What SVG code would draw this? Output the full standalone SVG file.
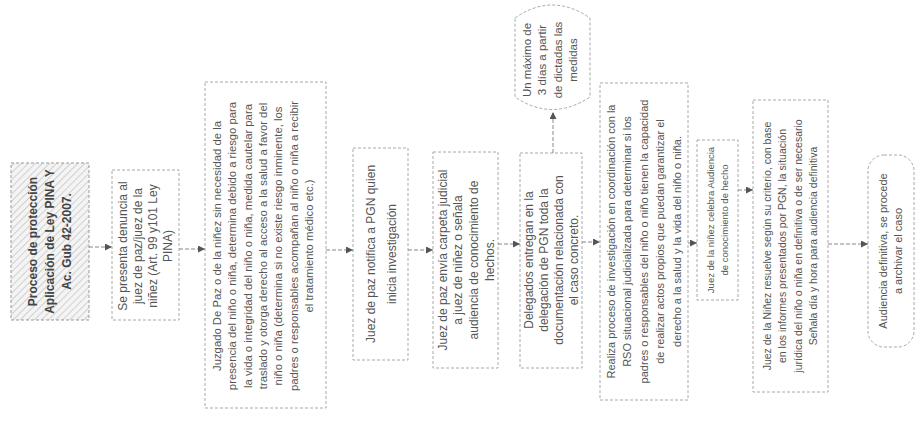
<svg xmlns="http://www.w3.org/2000/svg" width="922" height="423" viewBox="0 0 922 423">
<defs>
<pattern id="hatch" width="5" height="5" patternUnits="userSpaceOnUse" patternTransform="rotate(45)">
<rect width="5" height="5" fill="#f4f4f4"/>
<line x1="0" y1="0" x2="0" y2="5" stroke="#b8b8b8" stroke-width="1.2"/>
</pattern>
<marker id="arr" viewBox="0 0 10 10" refX="10" refY="5" markerWidth="7" markerHeight="7" orient="auto" markerUnits="userSpaceOnUse">
<path d="M0,0 L10,5 L0,10 z" fill="#555"/>
</marker>
<style>
.box{fill:#fff;stroke:#a8a8a8;stroke-width:1;stroke-dasharray:3 2}
.t{font-family:"Liberation Sans",Arial,sans-serif;font-size:11px;fill:#555;text-anchor:middle}
.m{font-size:12px}
.b{font-weight:bold;fill:#444;font-size:12px}
.c{stroke:#888;stroke-width:1;stroke-dasharray:4 2;fill:none;marker-end:url(#arr)}
</style>
</defs>
<rect width="922" height="423" fill="#fff"/>

<g id="n1">
<rect x="11" y="163" width="78" height="157" fill="url(#hatch)" stroke="#999" stroke-dasharray="3 2"/>
<g transform="translate(50,241.5) rotate(-90)">
<text class="t b" y="-12.8">Proceso de protección</text>
<text class="t b" y="4.2">Aplicación de Ley PINA Y</text>
<text class="t b" y="21.2">Ac. Gub 42-2007.</text>
</g>
</g>

<g id="n2">
<rect class="box" x="112" y="170" width="67" height="150"/>
<g transform="translate(145.5,246) rotate(-90)">
<text class="t m" y="-18.3">Se presenta denuncia al</text>
<text class="t m" y="-3.3">juez de paz/juez de la</text>
<text class="t m" y="11.7">niñez (Art. 99 y101 Ley</text>
<text class="t m" y="26.7">PINA)</text>
</g>
</g>

<g id="n3">
<rect class="box" x="205" y="82" width="121" height="326"/>
<g transform="translate(263,246) rotate(-90)">
<text class="t" style="font-size:11.3px" y="-42">Juzgado De Paz o de la niñez sin necesidad de la</text>
<text class="t" style="font-size:11.3px" y="-26.7">presencia del niño o niña,  determina debido a riesgo para</text>
<text class="t" style="font-size:11.3px" y="-11.4">la vida o integridad del niño o niña, medida cautelar para</text>
<text class="t" style="font-size:11.3px" y="3.9">traslado y otorga derecho al  acceso a la salud a favor del</text>
<text class="t" style="font-size:11.3px" y="19.2">niño o niña (determina si no existe riesgo inminente, los</text>
<text class="t" style="font-size:11.3px" y="34.5">padres o responsables acompañan al niño o niña a recibir</text>
<text class="t" style="font-size:11.3px" y="49.8">el tratamiento médico  etc.)</text>
</g>
</g>

<g id="n4">
<rect class="box" x="353" y="148" width="55" height="212"/>
<g transform="translate(381.5,254) rotate(-90)">
<text class="t m" y="-6.3">Juez de paz notifica a PGN quien</text>
<text class="t m" y="14.7">inicia investigación</text>
</g>
</g>

<g id="n5">
<rect class="box" x="433" y="152" width="65" height="216"/>
<g transform="translate(466,260) rotate(-90)">
<text class="t m" y="-19.2">Juez de paz envía carpeta judicial</text>
<text class="t m" y="-3.6">a juez de niñez o  señala</text>
<text class="t m" y="12">audiencia de conocimiento de</text>
<text class="t m" y="27.6">hechos.</text>
</g>
</g>

<g id="n6">
<rect class="box" x="520" y="153" width="62" height="215"/>
<g transform="translate(551,260) rotate(-90)">
<text class="t m" y="-18.3">Delegados entregan en la</text>
<text class="t m" y="-3.3">delegación de PGN toda la</text>
<text class="t m" y="11.7">documentación relacionada  con</text>
<text class="t m" y="26.7">el caso concreto.</text>
</g>
</g>

<g id="n7">
<path d="M515,18 Q552,-8 590,18 L590,97 Q552,122 515,97 Z" fill="#fff" stroke="#a8a8a8" stroke-dasharray="3 2"/>
<g transform="translate(550,60) rotate(-90)">
<text class="t" style="font-size:11.5px" y="-19.2">Un máximo de</text>
<text class="t" style="font-size:11.5px" y="-3.7">3 días a partir</text>
<text class="t" style="font-size:11.5px" y="11.8">de dictadas las</text>
<text class="t" style="font-size:11.5px" y="27.3">medidas</text>
</g>
</g>

<g id="n8">
<rect class="box" x="600" y="83" width="88" height="317"/>
<g transform="translate(644,241.5) rotate(-90)">
<text class="t" y="-29.2">Realiza proceso de investigación en coordinación con la</text>
<text class="t" y="-12.7">RSO situacional judicializada para determinar si los</text>
<text class="t" y="3.8">padres o responsables del niño o niño tienen la capacidad</text>
<text class="t" y="20.3">de realizar actos propios que puedan garantizar el</text>
<text class="t" y="36.8">derecho a la salud y la vida del niño o niña.</text>
</g>
</g>

<g id="n9">
<rect class="box" x="697" y="140" width="41" height="160"/>
<g transform="translate(717.5,220) rotate(-90)">
<text class="t" style="font-size:9.5px" y="-3.7">Juez de la niñez celebra Audiencia</text>
<text class="t" style="font-size:9.5px" y="10.3">de conocimiento de hecho</text>
</g>
</g>

<g id="n10">
<rect class="box" x="753" y="100" width="75" height="292"/>
<g transform="translate(790.5,246) rotate(-90)">
<text class="t" style="font-size:10.5px" y="-19.6">Juez de la Niñez resuelve según su criterio, con base</text>
<text class="t" style="font-size:10.5px" y="-4.1">en los informes presentados por PGN, la situación</text>
<text class="t" style="font-size:10.5px" y="11.4">jurídica del niño o niña en definitiva o de ser necesario</text>
<text class="t" style="font-size:10.5px" y="26.9">Señala día y hora para audiencia definitiva</text>
</g>
</g>

<g id="n11">
<rect class="box" x="868" y="155" width="46" height="192" rx="16" ry="16"/>
<g transform="translate(891,251) rotate(-90)">
<text class="t" y="-3.6">Audiencia definitiva, se procede</text>
<text class="t" y="11.4">a archivar el caso</text>
</g>
</g>

<g id="connectors">
<line class="c" x1="89" y1="247" x2="112" y2="247"/>
<line class="c" x1="179" y1="249" x2="205" y2="249"/>
<line class="c" x1="326" y1="250" x2="353" y2="250"/>
<line class="c" x1="408" y1="250" x2="433" y2="250"/>
<line class="c" x1="498" y1="244" x2="520" y2="244"/>
<line class="c" x1="553" y1="153" x2="553" y2="112"/>
<line class="c" x1="582" y1="242" x2="600" y2="242"/>
<line class="c" x1="688" y1="243" x2="697" y2="243"/>
<line class="c" x1="738" y1="190" x2="753" y2="190"/>
<line class="c" x1="828" y1="244" x2="868" y2="244"/>
</g>
</svg>
